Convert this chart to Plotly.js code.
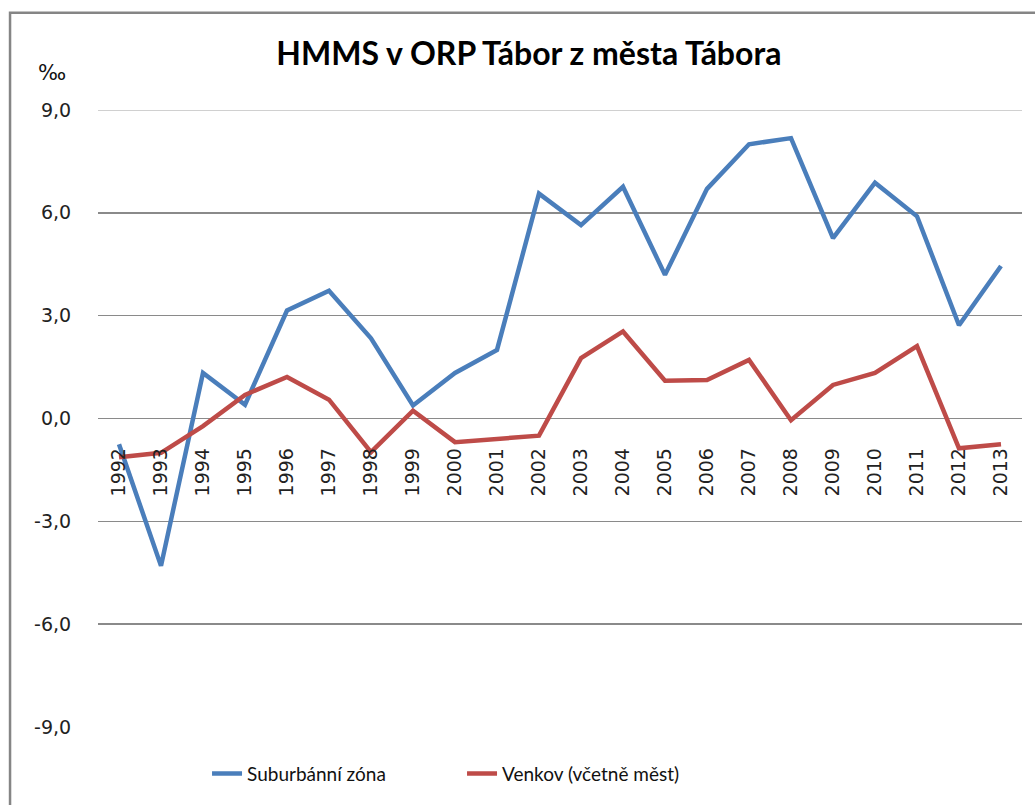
<!DOCTYPE html>
<html>
<head>
<meta charset="utf-8">
<script src="https://cdn.plot.ly/plotly-3.0.1.min.js"></script>
<style>html,body{margin:0;padding:0;background:#fff;}#chart{width:1035px;height:805px;}</style>
</head>
<body>
<div id="chart"></div>
<script>
const years = ["1992","1993","1994","1995","1996","1997","1998","1999","2000","2001","2002","2003","2004","2005","2006","2007","2008","2009","2010","2011","2012","2013"];
const suburban = [-0.75,-4.3,1.33,0.40,3.15,3.73,2.34,0.38,1.33,2.0,6.56,5.64,6.76,4.19,6.7,8.0,8.18,5.26,6.88,5.9,2.72,4.45];
const rural = [-1.13,-1.0,-0.22,0.69,1.21,0.55,-0.98,0.23,-0.69,-0.6,-0.5,1.76,2.54,1.1,1.12,1.71,-0.05,0.98,1.33,2.11,-0.87,-0.75];
const seriesNames = ["Suburbánní zóna","Venkov (včetně měst)"];
const yTicks = [-9,-6,-3,0,3,6,9];
const yTickText = ["-9,0","-6,0","-3,0","0,0","3,0","6,0","9,0"];

const traces = [
  {x: years, y: suburban, name: seriesNames[0], type: 'scatter', mode: 'lines',
   line: {color: '#4a7ebb', width: 4.5}},
  {x: years, y: rural, name: seriesNames[1], type: 'scatter', mode: 'lines',
   line: {color: '#be4b48', width: 4.5}}
];

const layout = {
  width: 1035, height: 805,
  margin: {l: 98, r: 13, t: 110, b: 73},
  paper_bgcolor: '#fff', plot_bgcolor: '#fff',
  separators: ', ',
  showlegend: true,
  title: {text: 'HMMS v ORP Tábor z města Tábora', x: 0.511, xanchor: 'center', y: 0.933, yanchor: 'middle',
          font: {family: 'Lato, "Open Sans", sans-serif', size: 32, color: '#000', weight: 'bold'}},
  xaxis: {type: 'category', anchor: 'free', position: 0.5,
          showgrid: false, showline: false, zeroline: false,
          tickangle: -90, ticks: 'outside', ticklen: 21, tickcolor: 'rgba(0,0,0,0)',
          tickfont: {family: '"DejaVu Sans", sans-serif', size: 19, color: '#222'},
          range: [-0.5, 21.5]},
  yaxis: {range: [-9, 9], tickvals: yTicks, ticktext: yTickText,
          showgrid: true, gridcolor: '#8a8a8a', gridwidth: 1.5, zeroline: false, showline: false,
          ticks: 'outside', ticklen: 22, tickcolor: 'rgba(0,0,0,0)',
          tickfont: {family: '"DejaVu Sans", sans-serif', size: 19, color: '#222'}},
  legend: {orientation: 'h', x: 0.118, xanchor: 'left', y: -0.045, yanchor: 'top',
           entrywidth: 210, entrywidthmode: 'pixels',
           font: {family: 'Lato, "Open Sans", sans-serif', size: 19, color: '#111'}},
  annotations: [{text: '‰', xref: 'paper', yref: 'paper', x: -0.05, y: 1.06, xanchor: 'center', yanchor: 'middle',
                 showarrow: false, font: {family: '"DejaVu Sans", sans-serif', size: 21, color: '#111'}}],
  shapes: [
    {type: 'line', xref: 'paper', yref: 'y', x0: 0, x1: 1, y0: yTicks[yTicks.length-1], y1: yTicks[yTicks.length-1],
     line: {color: '#d0d0d0', width: 2}, layer: 'above'},
    {type: 'rect', xref: 'paper', yref: 'paper', x0: -0.0952, x1: 1.05, y0: -0.2, y1: 1.1576,
     line: {color: '#858585', width: 2.5}, fillcolor: 'rgba(0,0,0,0)', layer: 'below'}]
};

Plotly.newPlot('chart', traces, layout, {displayModeBar: false, staticPlot: true});
</script>
</body>
</html>
